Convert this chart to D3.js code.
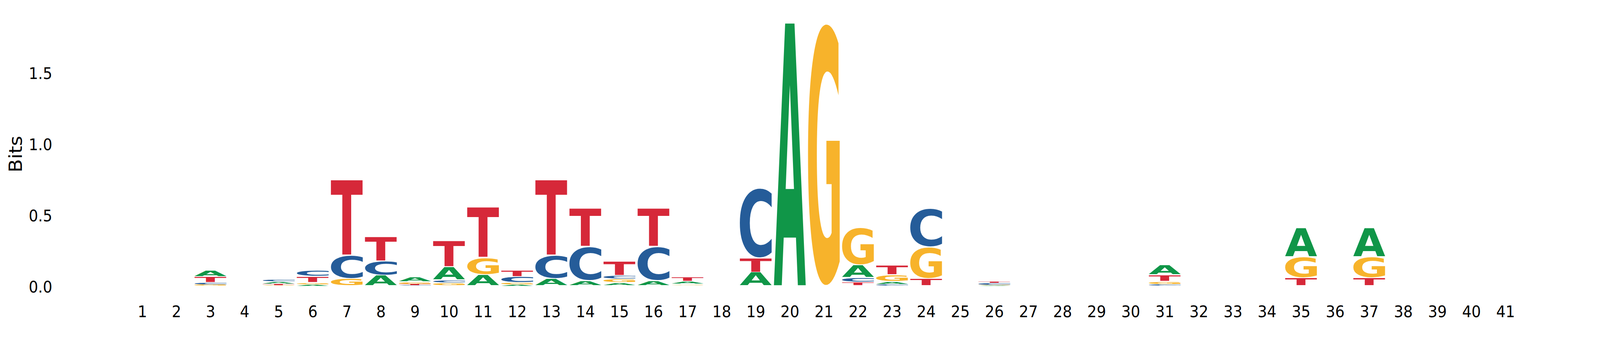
<!DOCTYPE html>
<html>
<head>
<meta charset="utf-8">
<script src="https://cdn.jsdelivr.net/npm/d3@7/dist/d3.min.js"></script>
<style>
  html, body { margin: 0; padding: 0; background: #fff; overflow: hidden; }
  svg { display: block; }
</style>
</head>
<body>
<svg id="logo"></svg>
<script>
//=============== data (bits per base per position) ===============
var positions = d3.range(1, 42);
var bases = ["A", "C", "G", "T"];

var valuesA = [0, 0, 0.045, 0, 0.0165, 0.007, 0, 0.073, 0.033, 0.0935,
               0.078, 0.007, 0.050, 0.0366, 0.022, 0.0366, 0.019, 0, 0.095, 1.848,
               0, 0.088, 0.022, 0, 0, 0.004, 0, 0, 0, 0,
               0.0715, 0, 0, 0, 0.2015, 0, 0.2015, 0, 0, 0, 0];
var valuesC = [0, 0, 0.0165, 0, 0.019, 0.045, 0.162, 0.100, 0.003, 0.022,
               0, 0.042, 0.162, 0.2365, 0.026, 0.2365, 0, 0, 0.492, 0,
               0, 0.033, 0.008, 0.272, 0, 0.010, 0, 0, 0, 0,
               0.008, 0, 0, 0, 0, 0, 0, 0, 0, 0, 0];
var valuesG = [0, 0, 0.0055, 0, 0.003, 0.015, 0.050, 0, 0.018, 0.020,
               0.119, 0.016, 0, 0, 0.024, 0, 0.011, 0, 0, 0,
               1.845, 0.264, 0.047, 0.223, 0, 0.004, 0, 0, 0, 0,
               0.022, 0, 0, 0, 0.1485, 0, 0.1485, 0, 0, 0, 0];
var valuesT = [0, 0, 0.043, 0, 0.008, 0.043, 0.533, 0.173, 0.006, 0.182,
               0.356, 0.0476, 0.533, 0.271, 0.099, 0.271, 0.030, 0, 0.099, 0,
               0, 0.025, 0.069, 0.0495, 0, 0.014, 0, 0, 0, 0,
               0.047, 0, 0, 0, 0.057, 0, 0.057, 0, 0, 0, 0];
var yTicks = [0, 0.5, 1.0, 1.5];

var baseColor = d3.scaleOrdinal()
	.domain(bases)
	.range(["#109648", "#255C99", "#F7B32B", "#D62839"]);

//=============== svg / scales ===============
var width = 4500, height = 900;

// drawn in a fixed 4500x900 frame, stretched to whatever the window is
var svg = d3.select("#logo")
	.attr("viewBox", "0 0 " + width + " " + height)
	.attr("preserveAspectRatio", "none")
	.style("width", "100vw")
	.style("height", "100vh");

svg.append("rect")
	.attr("width", width)
	.attr("height", height)
	.attr("fill", "#fff");

var x = d3.scaleLinear()
	.domain([1, 41])
	.range([400, 4234]);

var y = d3.scaleLinear()
	.domain([0, 1.5])
	.range([730.5, 730.5 - 1.5 * 363.8]);

var step = x(2) - x(1);
var glyphWidth = step * 0.94;

//=============== tight glyph bounds (for stretching letters) ===============
var fontSize = 200;
var glyphFont = "bold " + fontSize + "px 'DejaVu Sans'";
var ctx = document.createElement("canvas").getContext("2d");
ctx.font = glyphFont;
var bounds = {};
bases.forEach(function(b) {
	var m = ctx.measureText(b);
	bounds[b] = {
		left: m.actualBoundingBoxLeft,
		right: m.actualBoundingBoxRight,
		ascent: m.actualBoundingBoxAscent,
		descent: m.actualBoundingBoxDescent
	};
});

//=============== stacks: smallest at bottom ===============
var series = { A: valuesA, C: valuesC, G: valuesG, T: valuesT };
var glyphs = [];
positions.forEach(function(p, i) {
	var col = bases.map(function(b) { return { base: b, value: series[b][i] }; })
		.filter(function(d) { return d.value > 0; })
		.sort(function(a, b) { return a.value - b.value; });
	var floor = 0;
	col.forEach(function(d) {
		glyphs.push({ pos: p, base: d.base, y0: floor, y1: floor + d.value });
		floor += d.value;
	});
});

var logo = svg.append("g").attr("class", "glyphs");

logo.selectAll("text")
	.data(glyphs)
	.enter()
	.append("text")
	.attr("font-family", "'DejaVu Sans'")
	.attr("font-weight", "bold")
	.attr("font-size", fontSize)
	.attr("fill", function(d) { return baseColor(d.base); })
	.attr("transform", function(d) {
		var bb = bounds[d.base];
		var top = y(d.y1), bottom = y(d.y0);
		var h = bottom - top;
		var pad = h > 4 ? 1.2 : 0;
		top += pad; h -= 2 * pad;
		var sx = glyphWidth / (bb.left + bb.right);
		var sy = h / (bb.ascent + bb.descent);
		var x0 = x(d.pos) - glyphWidth / 2;
		return "translate(" + x0 + "," + top + ") scale(" + sx + "," + sy + ") translate(" + bb.left + "," + bb.ascent + ")";
	})
	.text(function(d) { return d.base; });

//=============== axes ===============
var yAxis = svg.append("g")
	.attr("transform", "translate(147,0)")
	.call(d3.axisLeft(y).tickValues(yTicks).tickSize(0).tickPadding(0).tickFormat(d3.format(".1f")));
yAxis.select(".domain").remove();
yAxis.selectAll("text")
	.attr("dy", "0.40em")
	.style("font-family", "'DejaVu Sans'")
	.style("font-size", "41.7px")
	.style("fill", "#000");

var xAxis = svg.append("g")
	.attr("transform", "translate(0,781.5)")
	.call(d3.axisBottom(x).tickValues(positions).tickSize(0).tickPadding(0).tickFormat(d3.format("d")));
xAxis.select(".domain").remove();
xAxis.selectAll("text")
	.style("font-family", "'DejaVu Sans'")
	.style("font-size", "41.7px")
	.style("fill", "#000");

// y label
svg.append("text")
	.attr("transform", "translate(62,394) rotate(-90)")
	.attr("text-anchor", "middle")
	.style("font-family", "'DejaVu Sans'")
	.style("font-size", "50px")
	.style("fill", "#000")
	.text("Bits");
</script>
</body>
</html>
